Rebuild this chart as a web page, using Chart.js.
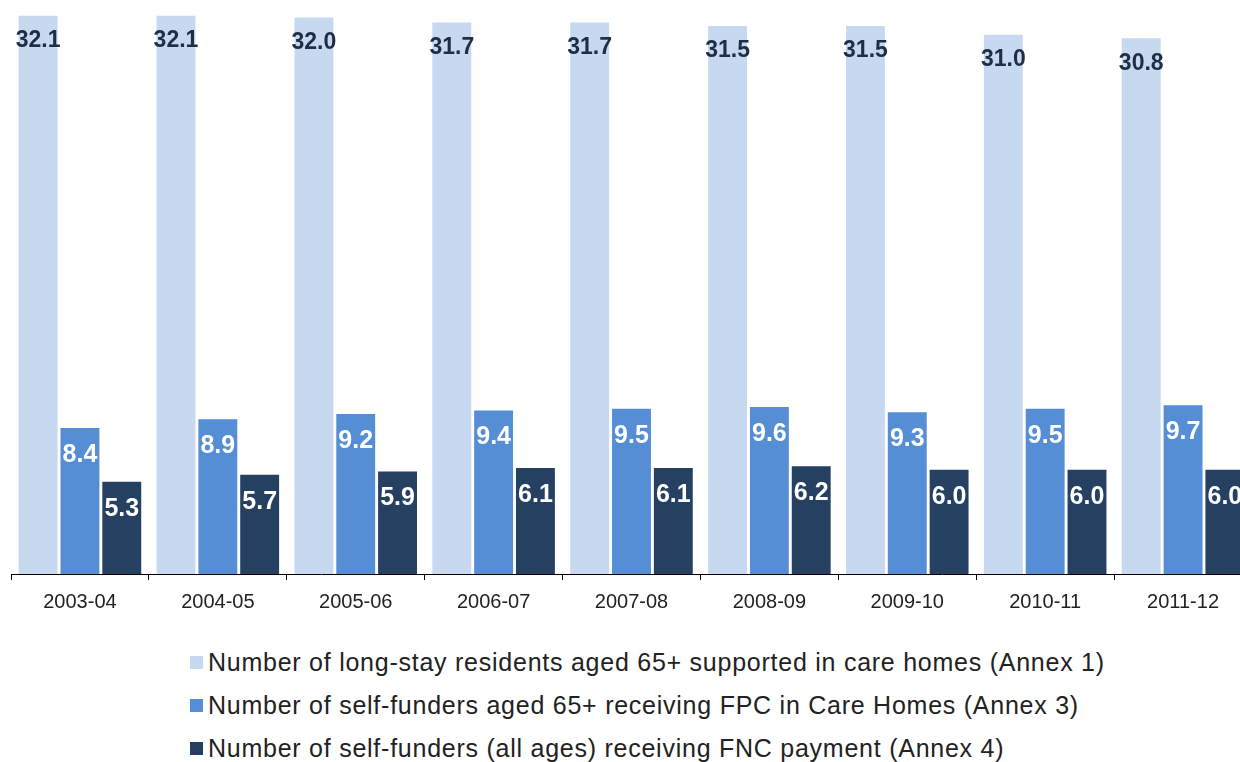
<!DOCTYPE html>
<html>
<head>
<meta charset="utf-8">
<script src="https://cdn.jsdelivr.net/npm/chart.js@4.4.0/dist/chart.umd.min.js"></script>
<style>
  html, body { margin: 0; padding: 0; background: #fff; overflow: hidden; width: 1240px; height: 762px; }
  #wrap { position: absolute; left: 0; top: 0; width: 1252px; height: 624px; }
  #legend { position: absolute; left: 190px; top: 642px; font-family: "Liberation Sans", Arial, sans-serif; font-size: 25px; letter-spacing: 0.75px; color: #222; }
  #legend div { height: 43px; line-height: 40px; white-space: nowrap; }
  #legend span.sw { display: inline-block; width: 13px; height: 13px; margin-right: 5px; vertical-align: 2px; }
</style>
</head>
<body>
<div id="wrap"><canvas id="careChart"></canvas></div>
<div id="legend"></div>
<script>
const years = ['2003-04', '2004-05', '2005-06', '2006-07', '2007-08', '2008-09', '2009-10', '2010-11', '2011-12'];
const longStay = [32.1, 32.1, 32.0, 31.7, 31.7, 31.5, 31.5, 31.0, 30.8];
const fpcSelfFunders = [8.4, 8.9, 9.2, 9.4, 9.5, 9.6, 9.3, 9.5, 9.7];
const fncSelfFunders = [5.3, 5.7, 5.9, 6.1, 6.1, 6.2, 6.0, 6.0, 6.0];
const seriesNames = [
  'Number of long-stay residents aged 65+ supported in care homes (Annex 1)',
  'Number of self-funders aged 65+ receiving FPC in Care Homes (Annex 3)',
  'Number of self-funders (all ages) receiving FNC payment (Annex 4)'
];
const colours = ['#c6d9f1', '#558ed5', '#254061'];
const labelColours = ['#1f2d45', '#ffffff', '#ffffff'];
const labelFonts = [
  'bold 23px "Liberation Sans", Arial, sans-serif',
  'bold 25px "Liberation Sans", Arial, sans-serif',
  'bold 25px "Liberation Sans", Arial, sans-serif'
];

// value labels just inside the top of each bar
const barLabels = {
  id: 'barLabels',
  afterDatasetsDraw(chart) {
    const ctx = chart.ctx;
    ctx.save();
    ctx.textAlign = 'center';
    ctx.textBaseline = 'middle';
    chart.data.datasets.forEach((ds, i) => {
      ctx.font = labelFonts[i];
      ctx.fillStyle = labelColours[i];
      chart.getDatasetMeta(i).data.forEach((bar, j) => {
        ctx.fillText(ds.data[j].toFixed(1), bar.x, bar.y + (i === 0 ? 25 : 27));
      });
    });
    ctx.restore();
  }
};

const ctx = document.getElementById('careChart').getContext('2d');
const careChart = new Chart(ctx, {
  type: 'bar',
  data: {
    labels: years,
    datasets: [longStay, fpcSelfFunders, fncSelfFunders].map((d, i) => ({
      label: seriesNames[i],
      data: d,
      backgroundColor: colours[i],
      barPercentage: 0.93,
      categoryPercentage: 0.91
    }))
  },
  options: {
    responsive: true,
    maintainAspectRatio: false,
    animation: false,
    layout: { padding: { left: 11, right: 0, top: 0, bottom: 0 } },
    plugins: { legend: { display: false }, tooltip: { enabled: false } },
    scales: {
      x: {
        grid: { offset: true, drawOnChartArea: false, color: '#000', tickLength: 6 },
        border: { color: '#000', width: 1 },
        ticks: { color: '#222', font: { family: '"Liberation Sans", Arial, sans-serif', size: 20 }, padding: 10 }
      },
      y: {
        display: false,
        min: 0,
        max: 33
      }
    }
  },
  plugins: [barLabels]
});

const legend = document.getElementById('legend');
seriesNames.forEach((name, i) => {
  const row = document.createElement('div');
  const sw = document.createElement('span');
  sw.className = 'sw';
  sw.style.background = colours[i];
  row.appendChild(sw);
  row.appendChild(document.createTextNode(name));
  legend.appendChild(row);
});
</script>
</body>
</html>
